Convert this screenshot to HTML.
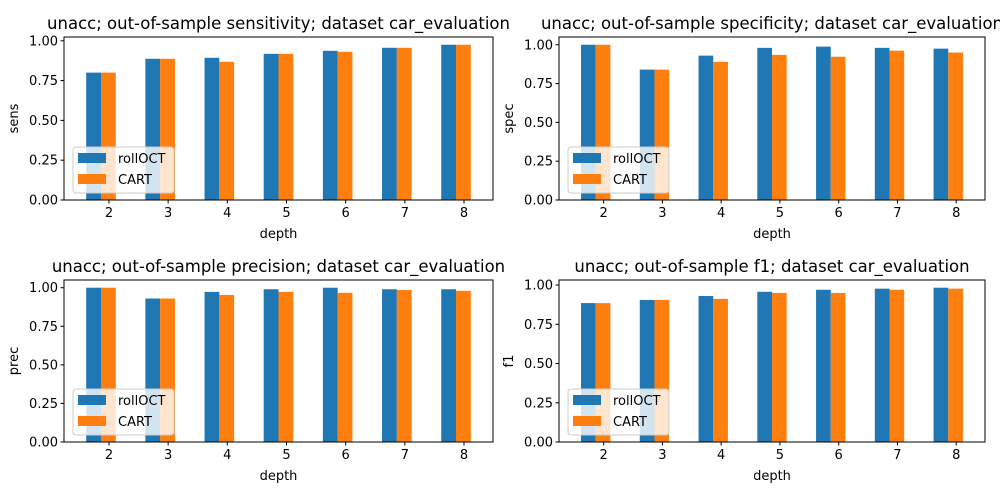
<!DOCTYPE html>
<html><head><meta charset="utf-8"><style>
html,body{margin:0;padding:0;background:#fff;}
svg{display:block;font-family:"DejaVu Sans","Liberation Sans",sans-serif;}
</style></head><body>
<svg id="chart" width="1000" height="500" viewBox="0 0 1000 500" xmlns="http://www.w3.org/2000/svg"></svg>
<script>
const categories = [2,3,4,5,6,7,8];
const seriesNames = ["rollOCT","CART"];
const sensRoll = [0.80,0.887,0.893,0.918,0.937,0.956,0.975];
const sensCart = [0.80,0.887,0.868,0.918,0.931,0.956,0.975];
const specRoll = [1.0,0.84,0.93,0.98,0.988,0.98,0.975];
const specCart = [1.0,0.84,0.89,0.935,0.923,0.962,0.95];
const precRoll = [1.0,0.93,0.973,0.99,1.0,0.99,0.99];
const precCart = [1.0,0.93,0.953,0.973,0.967,0.985,0.98];
const f1Roll = [0.885,0.905,0.93,0.957,0.97,0.977,0.983];
const f1Cart = [0.885,0.905,0.912,0.95,0.95,0.97,0.977];
const yTicks = [0,0.25,0.5,0.75,1.0];
const yTickLabels = ["0.00","0.25","0.50","0.75","1.00"];

const panels = [
 {name:"sensitivity",lab:"sens",title:"unacc; out-of-sample sensitivity; dataset car_evaluation",a:sensRoll,b:sensCart,x0:64,x1:493,y0:37,y1:200},
 {name:"specificity",lab:"spec",title:"unacc; out-of-sample specificity; dataset car_evaluation",a:specRoll,b:specCart,x0:559,x1:985,y0:37,y1:200},
 {name:"precision",lab:"prec",title:"unacc; out-of-sample precision; dataset car_evaluation",a:precRoll,b:precCart,x0:64,x1:493,y0:280,y1:442},
 {name:"f1",lab:"f1",title:"unacc; out-of-sample f1; dataset car_evaluation",a:f1Roll,b:f1Cart,x0:559,x1:985,y0:280,y1:442}
];
const NS="http://www.w3.org/2000/svg";
const svg=document.getElementById('chart');
function mk(tag,attrs,parent,text){const e=document.createElementNS(NS,tag);for(const k in attrs)e.setAttribute(k,attrs[k]);if(text!==undefined)e.textContent=text;(parent||svg).appendChild(e);return e;}
const colors=["#1f77b4","#ff7f0e"];
panels.forEach(p=>{
  const g=mk('g',{});
  
  
  const ymax=Math.max(...p.a,...p.b)*1.05;
  const yS=v=>p.y1-(v/ymax)*(p.y1-p.y0);
  const unit=(p.x1-p.x0)/7.25;
  const xS=i=>p.x0+(i+0.625)*unit;
  const bw=unit*0.25;
  [p.a,p.b].forEach((arr,s)=>{
    arr.forEach((v,i)=>{
      const r=mk('rect',{x:xS(i)+(s-1)*bw,y:yS(v),width:bw,height:p.y1-yS(v),fill:colors[s]},g);
      
      
    });
  });
  mk('rect',{x:p.x0,y:p.y0,width:p.x1-p.x0,height:p.y1-p.y0,fill:"none",stroke:"#000","stroke-width":1},g);
  yTicks.forEach((t,k)=>{
    const y=yS(t);
    mk('line',{x1:p.x0-3.5,x2:p.x0,y1:y,y2:y,stroke:"#000"},g);
    const tl=mk('text',{x:p.x0-6,y:y+4.5,"text-anchor":"end","font-size":"13"},g,yTickLabels[k]);
    
    
  });
  categories.forEach((c,i)=>{
    const x=xS(i)+unit*0.135;
    mk('line',{x1:x,x2:x,y1:p.y1,y2:p.y1+3.5,stroke:"#000"},g);
    const tl=mk('text',{x:x,y:p.y1+17,"text-anchor":"middle","font-size":"13"},g,String(c));
    
    
  });
  const xl=mk('text',{x:(p.x0+p.x1)/2,y:p.y1+38,"text-anchor":"middle","font-size":"13"},g,"depth");
  
  
  const yx=p.x0-46, yy=(p.y0+p.y1)/2;
  const yl=mk('text',{x:yx,y:yy,"text-anchor":"middle","font-size":"13",transform:`rotate(-90 ${yx} ${yy})`},g,p.lab);
  
  
  const ti=mk('text',{x:(p.x0+p.x1)/2,y:p.y0-8,"text-anchor":"middle","font-size":"16.5"},g,p.title);
  
  
  const lg=mk('g',{},g);
  
  
  const lx=p.x0+9, ly=p.y1-53;
  mk('rect',{x:lx,y:ly,width:101,height:46,rx:3,fill:"#fff","fill-opacity":0.8,stroke:"#ccc"},lg);
  seriesNames.forEach((n,s)=>{
    const e=mk('g',{},lg);
    
    
    mk('rect',{x:lx+5,y:ly+6+s*21,width:28,height:10,fill:colors[s]},e);
    mk('text',{x:lx+45,y:ly+16+s*21,"font-size":"13"},e,n);
  });
});
</script>
</body></html>
